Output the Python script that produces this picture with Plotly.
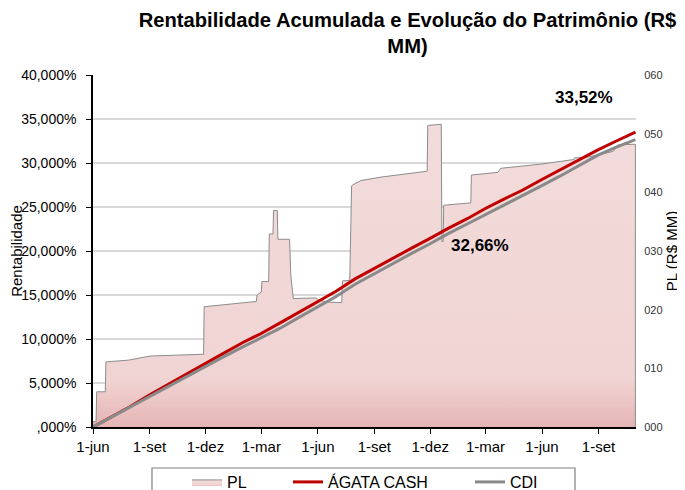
import plotly.graph_objects as go

# ---------------- data ----------------
pl_dates = ["2015-06-01", "2015-06-06", "2015-06-07", "2015-06-21", "2015-06-22", "2015-07-29",
            "2015-09-02", "2015-11-28", "2015-11-29", "2016-02-22", "2016-02-23", "2016-03-01",
            "2016-03-02", "2016-03-13", "2016-03-14", "2016-03-20", "2016-03-21", "2016-03-27",
            "2016-03-28", "2016-04-16", "2016-04-18", "2016-04-22", "2016-05-29", "2016-06-03",
            "2016-06-17", "2016-07-10", "2016-07-11", "2016-07-23", "2016-07-26", "2016-07-30",
            "2016-08-10", "2016-09-12", "2016-11-26", "2016-11-27", "2016-12-19", "2016-12-20",
            "2016-12-22", "2016-12-23", "2017-02-05", "2017-02-06", "2017-03-21", "2017-03-26",
            "2017-05-30", "2017-07-23", "2017-07-24", "2017-08-09", "2017-09-10", "2017-09-25",
            "2017-10-03", "2017-10-31", "2017-10-31"]
pl_values = [0.9, 0.9, 6.0, 6.0, 11.1, 11.4,
             12.1, 12.4, 20.5, 21.4, 22.5, 23.0,
             24.8, 24.8, 32.9, 32.9, 36.9, 36.9,
             32.0, 32.0, 25.9, 21.9, 22.0, 21.6,
             21.3, 21.2, 24.9, 25.0, 41.1, 41.4,
             42.0, 42.6, 43.6, 51.4, 51.6, 31.6,
             31.6, 37.8, 38.2, 42.95, 43.4, 44.1,
             44.8, 45.6, 45.9, 45.9, 46.6, 47.0,
             48.1, 48.2, 0.0]

ret_dates = ["2015-06-01", "2015-06-30", "2015-07-31", "2015-08-31", "2015-09-30", "2015-10-31",
             "2015-11-30", "2015-12-31", "2016-01-31", "2016-02-29", "2016-03-31", "2016-04-30",
             "2016-05-31", "2016-06-30", "2016-07-31", "2016-08-31", "2016-09-30", "2016-10-31",
             "2016-11-30", "2016-12-31", "2017-01-31", "2017-02-28", "2017-03-31", "2017-04-30",
             "2017-05-31", "2017-06-30", "2017-07-31", "2017-08-31", "2017-09-30", "2017-10-31"]
agata_values = [0.0, 1.1, 2.3, 3.6, 4.8, 6.0,
                7.2, 8.4, 9.6, 10.6, 11.8, 13.0,
                14.2, 15.4, 16.8, 18.0, 19.1, 20.3,
                21.4, 22.6, 23.7, 24.8, 25.9, 26.9,
                28.1, 29.2, 30.4, 31.5, 32.5, 33.52]
cdi_values = [0.0, 1.1, 2.2, 3.4, 4.5, 5.7,
              6.9, 8.0, 9.1, 10.1, 11.2, 12.4,
              13.6, 14.8, 16.2, 17.4, 18.5, 19.7,
              20.8, 22.0, 23.1, 24.1, 25.2, 26.2,
              27.4, 28.5, 29.7, 30.9, 31.8, 32.66]

x_tick_dates = ["2015-06-01", "2015-09-01", "2015-12-01", "2016-03-01", "2016-06-01",
                "2016-09-01", "2016-12-01", "2017-03-01", "2017-06-01", "2017-09-01"]
x_tick_labels = ["1-jun", "1-set", "1-dez", "1-mar", "1-jun", "1-set", "1-dez", "1-mar", "1-jun", "1-set"]
y_tick_vals = [0, 5, 10, 15, 20, 25, 30, 35, 40]
y_tick_labels = [",000%", "5,000%", "10,000%", "15,000%", "20,000%", "25,000%", "30,000%", "35,000%", "40,000%"]
pl_tick_vals = [0, 10, 20, 30, 40, 50, 60]
pl_tick_labels = ["000", "010", "020", "030", "040", "050", "060"]

series_names = ["PL", "ÁGATA CASH", "CDI"]
end_labels = ["33,52%", "32,66%"]
title_text = "Rentabilidade Acumulada e Evolução do Patrimônio (R$<br>MM)"

FONT = "Liberation Sans, Arial, sans-serif"

# the page body adds an 8 px margin, so the figure is 8 px smaller than the window
W, H = 677, 482

fig = go.Figure()

# PL area on the base (right-hand) axis so that the return lines overlay it
fig.add_trace(go.Scatter(
    x=pl_dates, y=pl_values, name=series_names[0], yaxis="y",
    mode="lines", line=dict(color="#8c8c8c", width=1),
    fill="tozeroy",
    fillgradient=dict(type="vertical",
                      colorscale=[[0, "#e5b5b4"], [0.16, "#f0d4d3"], [1, "#f2dcdb"]]),
    legendwidth=56,
))
fig.add_trace(go.Scatter(
    x=ret_dates, y=agata_values, name=series_names[1], yaxis="y2",
    mode="lines", line=dict(color="#c00000", width=3),
    legendwidth=137,
))
fig.add_trace(go.Scatter(
    x=ret_dates, y=cdi_values, name=series_names[2], yaxis="y2",
    mode="lines", line=dict(color="#8a8a8a", width=3),
))

fig.update_layout(
    width=W, height=H,
    margin=dict(l=85, r=49, t=67, b=63, autoexpand=False),
    paper_bgcolor="white", plot_bgcolor="white",
    font=dict(family=FONT, color="#000000"),
    title=dict(text=title_text, x=399.5 / W, xanchor="center", xref="container",
               y=1 - 19 / H, yanchor="top",
               font=dict(family=FONT, size=20.2, color="#000000", weight="bold")),
    showlegend=True,
    legend=dict(orientation="h", x=0.1731, xanchor="left", y=-0.108, yanchor="top",
                font=dict(family=FONT, size=16, color="#000000"),
                bgcolor="rgba(0,0,0,0)", borderwidth=0, itemwidth=30,
                traceorder="normal"),
    xaxis=dict(type="date", range=["2015-06-01", "2017-11-01"],
               tickvals=x_tick_dates, ticktext=x_tick_labels,
               showgrid=False, showline=True, linecolor="#000000", linewidth=1.5,
               ticks="outside", ticklen=5, tickcolor="#000000", tickwidth=1,
               tickfont=dict(family=FONT, size=15, color="#000000"), zeroline=False),
    yaxis=dict(range=[0, 60], side="right",
               tickvals=pl_tick_vals, ticktext=pl_tick_labels,
               showgrid=False, showline=False, zeroline=False,
               ticks="outside", ticklen=5, tickcolor="rgba(0,0,0,0)",
               tickfont=dict(family=FONT, size=11, color="#333333"),
               title=dict(text="PL (R$ MM)", font=dict(family=FONT, size=15, color="#000000"),
                          standoff=4)),
    yaxis2=dict(range=[0, 40], overlaying="y", side="left",
                tickvals=y_tick_vals, ticktext=y_tick_labels,
                showgrid=True, gridcolor="#d9d9d9", gridwidth=1.5,
                showline=True, linecolor="#000000", linewidth=1.5,
                ticks="outside", ticklen=5, tickcolor="#000000", ticklabelstandoff=7,
                tickfont=dict(family=FONT, size=14, color="#000000"),
                title=dict(text="Rentabilidade", font=dict(family=FONT, size=15, color="#000000"),
                           standoff=16),
                zeroline=False),
    shapes=[dict(type="rect", xref="paper", yref="paper",
                 x0=(152 - 93) / 543, x1=(575 - 93) / 543,
                 y0=-0.30, y1=(427 - 468) / 352,
                 line=dict(color="#7f7f7f", width=1.2), fillcolor="rgba(0,0,0,0)", layer="above")],
    annotations=[
        dict(text=end_labels[0], xref="paper", yref="paper", x=0.904, y=0.935,
             xanchor="center", yanchor="middle", showarrow=False,
             font=dict(family=FONT, size=17, color="#000000", weight="bold")),
        dict(text=end_labels[1], xref="paper", yref="paper", x=0.712, y=0.517,
             xanchor="center", yanchor="middle", showarrow=False,
             font=dict(family=FONT, size=17, color="#000000", weight="bold")),
    ],
)

fig.write_html("out.html")
